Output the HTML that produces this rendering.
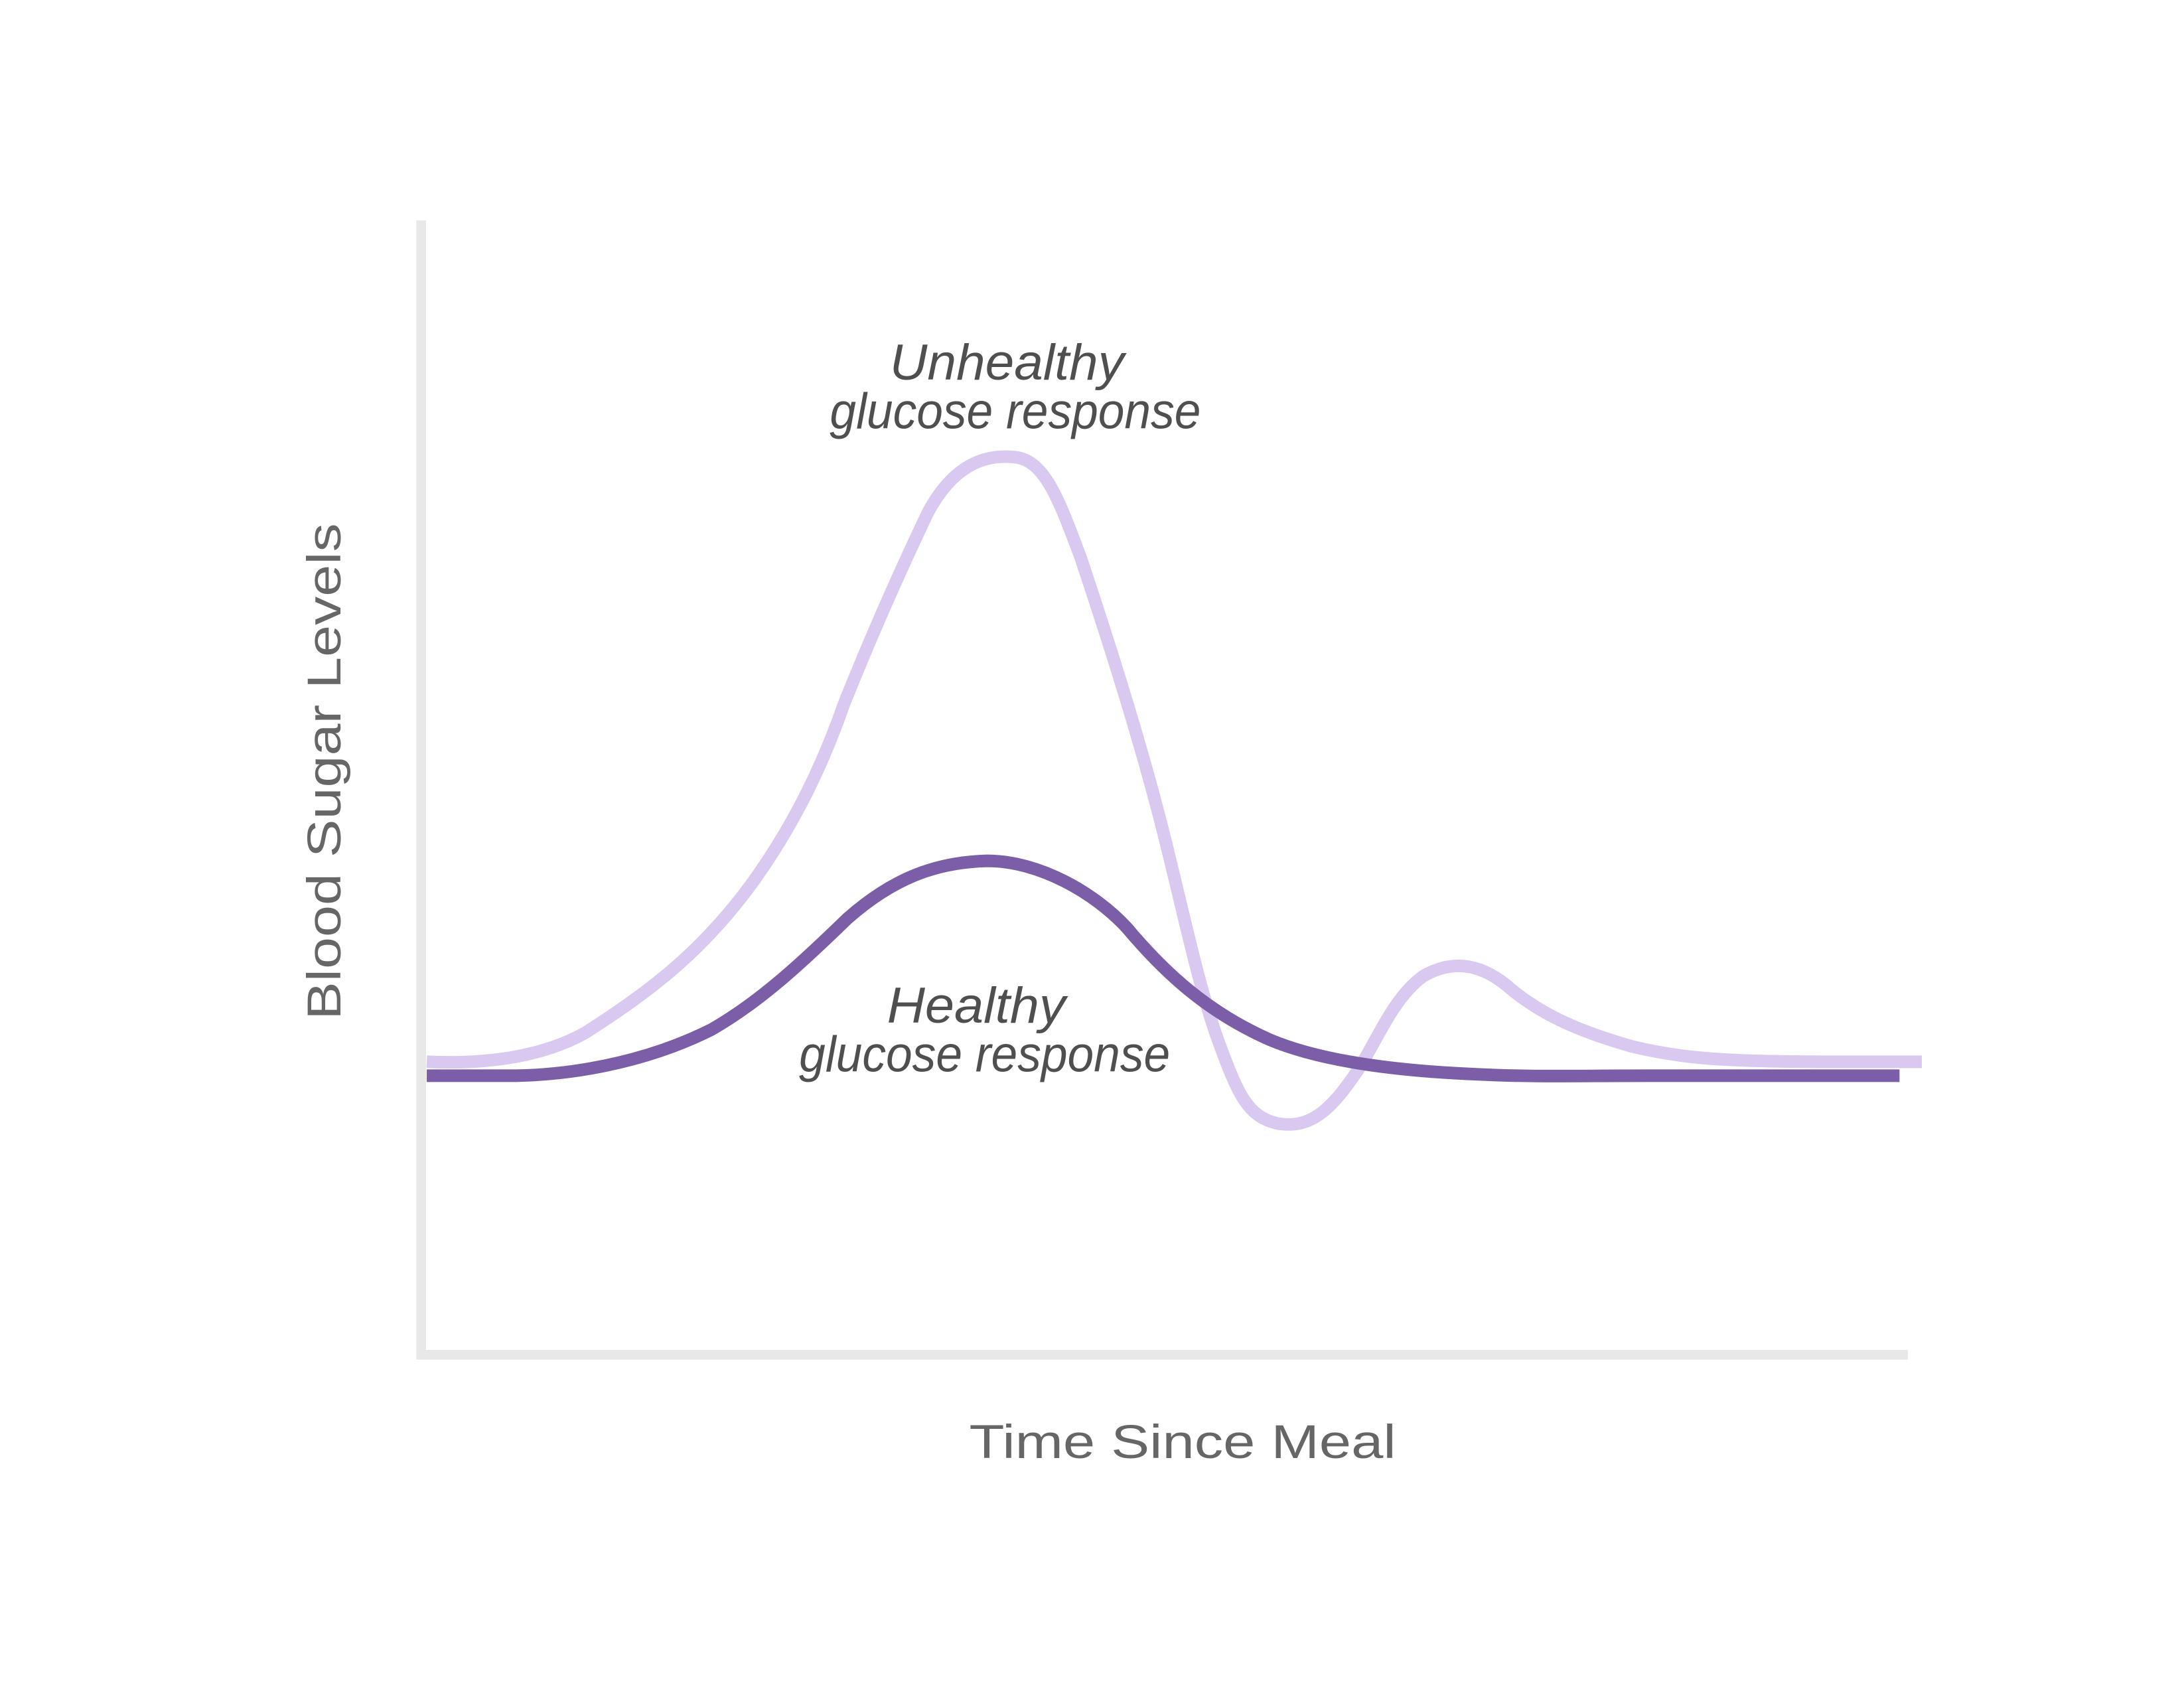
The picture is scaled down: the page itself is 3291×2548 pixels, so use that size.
<!DOCTYPE html>
<html><head><meta charset="utf-8"><style>
html,body{margin:0;padding:0;background:#fff;}
svg{display:block;}
</style></head><body>
<svg width="3291" height="2548" viewBox="0 0 1566 1212" preserveAspectRatio="none" xmlns="http://www.w3.org/2000/svg">
<rect width="1566" height="1212" fill="#fff"/>
<line x1="302" y1="158" x2="302" y2="974" stroke="#e8e8e8" stroke-width="7"/>
<line x1="299" y1="971" x2="1368" y2="971" stroke="#e8e8e8" stroke-width="7"/>
<path d="M306,761 C350,763 390,757 420,740 C470,708 505,680 540,632 C570,590 590,548 605,505 C625,455 645,410 665,368 C685,330 710,325 730,328 C750,332 760,360 775,400 C800,475 820,540 835,600 C850,660 860,710 875,750 C888,785 895,800 915,805 C940,810 955,795 975,765 C990,740 1000,715 1020,700 C1040,688 1060,690 1080,706 C1105,728 1135,740 1170,750 C1220,762 1260,761 1378,761"
 fill="none" stroke="#d9c8f0" stroke-width="9" stroke-linecap="butt"/>
<path d="M306,771 L370,771 C420,770 470,758 510,738 C545,718 575,690 608,658 C640,630 670,618 708,617 C745,617 785,640 808,665 C835,697 865,725 910,745 C950,762 1010,768 1060,770 C1100,772 1130,771 1180,771 L1362,771"
 fill="none" stroke="#7b5ea7" stroke-width="9" stroke-linecap="butt"/>
<g font-family="Liberation Sans, sans-serif" font-style="italic" fill="#4f4f4f" font-size="36" text-anchor="middle">
<text x="722" y="272" textLength="168" lengthAdjust="spacingAndGlyphs">Unhealthy</text>
<text x="728" y="307" textLength="266" lengthAdjust="spacingAndGlyphs">glucose response</text>
<text x="700" y="733" textLength="128" lengthAdjust="spacingAndGlyphs">Healthy</text>
<text x="706" y="768" textLength="266" lengthAdjust="spacingAndGlyphs">glucose response</text>
</g>
<g font-family="Liberation Sans, sans-serif" fill="#666" font-size="34" text-anchor="middle">
<text x="848" y="1045" textLength="306" lengthAdjust="spacingAndGlyphs">Time Since Meal</text>
<text transform="translate(244,553) rotate(-90)" x="0" y="0" textLength="356" lengthAdjust="spacingAndGlyphs">Blood Sugar Levels</text>
</g>
</svg>
</body></html>
